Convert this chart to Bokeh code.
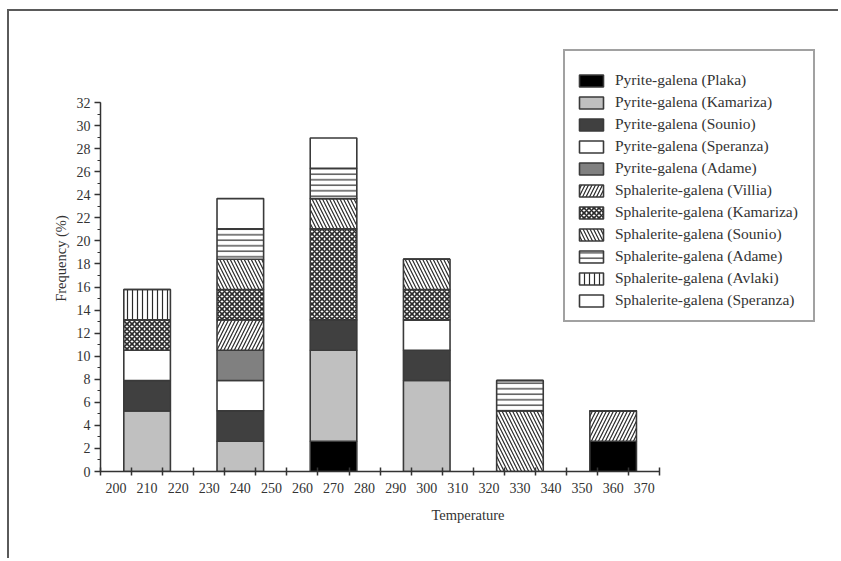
from bokeh.plotting import figure
from bokeh.models import FixedTicker, SingleIntervalTicker, Legend, Range1d
from bokeh.embed import file_html
from bokeh.resources import INLINE

# ---- data (frequency %) ----
temperature = [210, 240, 270, 300, 330, 360]
x_tick_labels = [200, 210, 220, 230, 240, 250, 260, 270, 280, 290, 300, 310, 320, 330, 340, 350, 360, 370]
x_tick_marks = [195, 205, 215, 225, 235, 245, 255, 265, 275, 285, 295, 305, 315, 325, 335, 345, 355, 365, 375]

pyrite_plaka = [0, 0, 2.63, 0, 0, 2.63]
pyrite_kamariza = [5.26, 2.63, 7.89, 7.89, 0, 0]
pyrite_sounio = [2.63, 2.63, 2.63, 2.63, 0, 0]
pyrite_speranza = [2.63, 2.63, 0, 2.63, 0, 0]
pyrite_adame = [0, 2.63, 0, 0, 0, 0]
sph_villia = [0, 2.63, 0, 0, 0, 2.63]
sph_kamariza = [2.63, 2.63, 7.89, 2.63, 0, 0]
sph_sounio = [0, 2.63, 2.63, 2.63, 5.26, 0]
sph_adame = [0, 2.63, 2.63, 0, 2.63, 0]
sph_avlaki = [2.63, 0, 0, 0, 0, 0]
sph_speranza = [0, 2.63, 2.63, 0, 0, 0]

series_names = [
    "Pyrite-galena (Plaka)",
    "Pyrite-galena (Kamariza)",
    "Pyrite-galena (Sounio)",
    "Pyrite-galena (Speranza)",
    "Pyrite-galena (Adame)",
    "Sphalerite-galena (Villia)",
    "Sphalerite-galena (Kamariza)",
    "Sphalerite-galena (Sounio)",
    "Sphalerite-galena (Adame)",
    "Sphalerite-galena (Avlaki)",
    "Sphalerite-galena (Speranza)",
]
series_values = [pyrite_plaka, pyrite_kamariza, pyrite_sounio, pyrite_speranza, pyrite_adame,
                 sph_villia, sph_kamariza, sph_sounio, sph_adame, sph_avlaki, sph_speranza]

fills = ["#000000", "#c0c0c0", "#404040", "#ffffff", "#808080",
         "#ffffff", "#ffffff", "#ffffff", "#ffffff", "#ffffff", "#ffffff"]
hatches = [" ", " ", " ", " ", " ", "/", "x", "\\", "-", "|", " "]
hatch_scales = [6, 6, 6, 6, 6, 7, 5, 7, 5.5, 5, 6]
hatch_weights = [1.2, 1.2, 1.2, 1.2, 1.2, 1.2, 1.6, 1.2, 1.2, 1.2, 1.2]

data = {"x": temperature}
keys = []
for i, vals in enumerate(series_values):
    k = f"s{i}"
    keys.append(k)
    data[k] = vals

SERIF = "Liberation Serif"
W, H = 831, 549
MB_L, MB_R, MB_T, MB_B = 91, 5, 34, 89
PX_PER_DEG = 3.107
PX_PER_PCT = 11.53
x_end = 195 + (W - MB_L - MB_R) / PX_PER_DEG
y_end = (H - MB_T - MB_B) / PX_PER_PCT

p = figure(width=W, height=H, output_backend="svg", toolbar_location=None,
           x_range=Range1d(195, x_end), y_range=Range1d(0, y_end),
           min_border_left=MB_L, min_border_top=MB_T, min_border_right=MB_R, min_border_bottom=MB_B)
p.styles = {"border-top": "2px solid #5a5a5a", "border-left": "2px solid #5a5a5a",
            "margin-left": "7px", "margin-top": "9px"}

renderers = p.vbar_stack(keys, x="x", width=15, source=data,
                         fill_color=fills, line_color="#3a3a3a", line_width=1.6,
                         hatch_pattern=hatches, hatch_color="#2a2a2a", hatch_weight=hatch_weights,
                         hatch_scale=hatch_scales)

p.xgrid.visible = False
p.ygrid.visible = False
p.outline_line_color = None

# x axis
xa = p.xaxis[0]
xa.bounds = (195, 375)
xa.ticker = FixedTicker(ticks=x_tick_labels, minor_ticks=x_tick_marks)
xa.major_tick_in = 0
xa.major_tick_out = 0
xa.minor_tick_in = 4
xa.minor_tick_out = 4
xa.minor_tick_line_color = "#333333"
xa.minor_tick_line_width = 1.5
xa.axis_label = "Temperature"
xa.major_label_standoff = 7
xa.axis_label_standoff = 11

# y axis
ya = p.yaxis[0]
ya.bounds = (0, 32)
ya.ticker = SingleIntervalTicker(interval=2, num_minor_ticks=2)
ya.major_tick_in = 0
ya.major_tick_out = 6
ya.minor_tick_in = 0
ya.minor_tick_out = 3
ya.major_tick_line_color = "#333333"
ya.minor_tick_line_color = "#333333"
ya.major_tick_line_width = 1.5
ya.axis_label = "Frequency (%)"
ya.major_label_standoff = 4
ya.axis_label_standoff = 5

for ax in (xa, ya):
    ax.axis_line_color = "#333333"
    ax.axis_line_width = 1.5
    ax.major_label_text_font = SERIF
    ax.major_label_text_font_size = "14px"
    ax.major_label_text_color = "#333333"
    ax.axis_label_text_font = SERIF
    ax.axis_label_text_font_size = "14.5px"
    ax.axis_label_text_font_style = "normal"
    ax.axis_label_text_color = "#333333"

legend = Legend(items=[(name, [r]) for name, r in zip(series_names, renderers)],
                location=(463, 149),
                title=" ", title_text_font_size="7px", title_standoff=2,
                label_text_font=SERIF, label_text_font_size="15.5px", label_text_color="#333333",
                glyph_width=30, glyph_height=15, label_height=16, label_width=187, spacing=4,
                padding=11, margin=0, label_standoff=9,
                border_line_color="#444444", border_line_width=2,
                background_fill_alpha=1.0)
p.add_layout(legend, "center")

open("out.html", "w").write(file_html(p, INLINE))
